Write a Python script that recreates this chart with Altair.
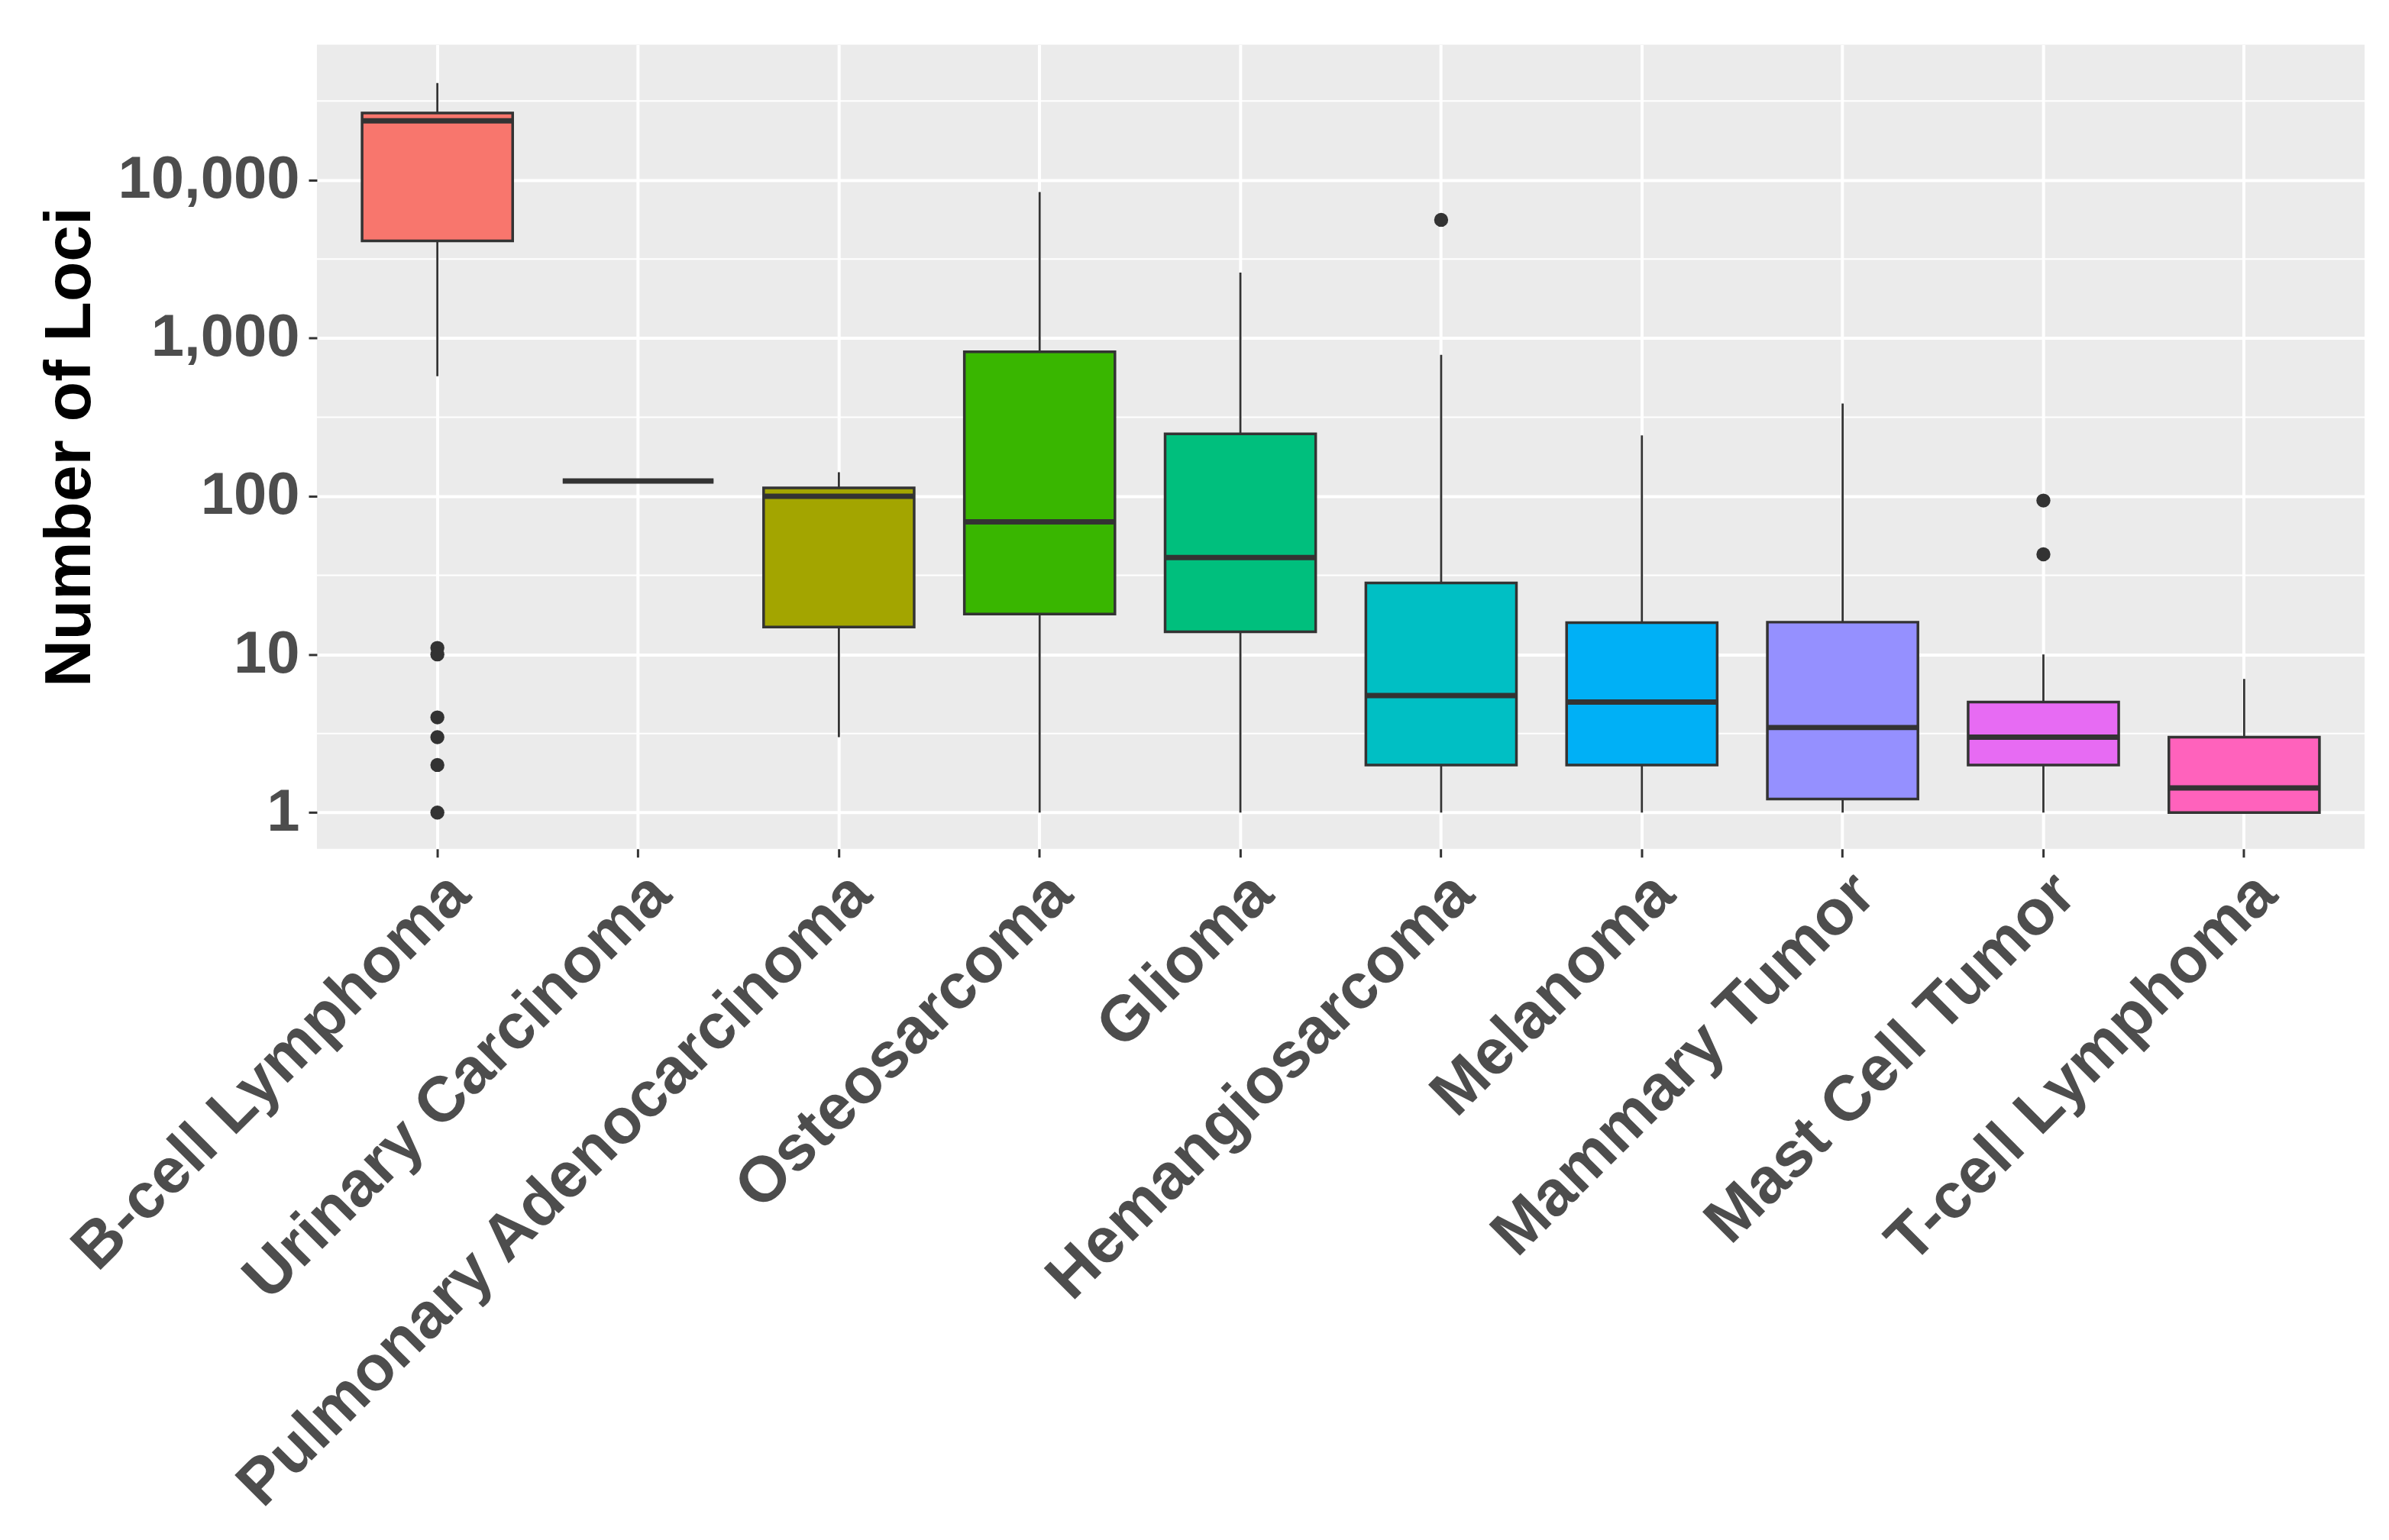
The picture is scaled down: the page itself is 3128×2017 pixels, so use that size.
import altair as alt
import pandas as pd

categories = ["B-cell Lymphoma", "Urinary Carcinoma", "Pulmonary Adenocarcinoma",
              "Osteosarcoma", "Glioma", "Hemangiosarcoma", "Melanoma",
              "Mammary Tumor", "Mast Cell Tumor", "T-cell Lymphoma"]
whisker_low = [575, 125, 3, 1, 1, 1, 1, 1, 1, 1]
q1 = [4120, 125, 14.9, 18, 13.9, 2.0, 2.0, 1.22, 2.0, 1.0]
median = [23700, 125, 100, 69, 41, 5.5, 5.0, 3.45, 3.0, 1.43]
q3 = [26500, 125, 113, 820, 248, 28.3, 15.9, 16, 5.0, 3.0]
whisker_high = [41000, 125, 142, 8400, 2600, 784, 243, 386, 10, 7]
outlier_cat = ["B-cell Lymphoma"] * 6 + ["Hemangiosarcoma", "Mast Cell Tumor", "Mast Cell Tumor"]
outlier_val = [11, 10, 4, 3, 2, 1, 5600, 94, 43]
fill_colors = ["#F8766D", "#D89000", "#A3A500", "#39B600", "#00BF7D",
               "#00BFC4", "#00B0F6", "#9590FF", "#E76BF3", "#FF62BC"]
major_ticks = [1, 10, 100, 1000, 10000]
minor_ticks = [3.1623, 31.623, 316.23, 3162.3, 31623]

box_df = pd.DataFrame({"cat": categories, "lo": whisker_low, "q1": q1,
                       "med": median, "q3": q3, "hi": whisker_high})
out_df = pd.DataFrame({"cat": outlier_cat, "val": outlier_val})
minor_df = pd.DataFrame({"v": minor_ticks})

x_enc = alt.X("cat:N", sort=categories, title=None,
              scale=alt.Scale(domain=categories, paddingInner=0, paddingOuter=0.1))
y_scale = alt.Scale(type="log", domain=[0.59, 71800], nice=False)

minor = alt.Chart(minor_df).mark_rule(color="white", strokeWidth=2).encode(
    y=alt.Y("v:Q", scale=y_scale)
)

whisk = alt.Chart(box_df).mark_rule(color="#333333", strokeWidth=2.8).encode(
    x=x_enc,
    y=alt.Y("lo:Q", scale=y_scale, title="Number of Loci",
            axis=alt.Axis(values=major_ticks, format=",", titleX=-280, titleY=528)),
    y2="hi:Q",
)

boxes = alt.Chart(box_df).mark_bar(
    width=alt.RelativeBandSize(0.75), stroke="#333333", strokeWidth=3.5
).encode(
    x=x_enc,
    y=alt.Y("q1:Q", scale=y_scale),
    y2="q3:Q",
    fill=alt.Fill("cat:N", scale=alt.Scale(domain=categories, range=fill_colors), legend=None),
)

meds = alt.Chart(box_df).mark_tick(color="#333333", thickness=7, size=198, opacity=1).encode(
    x=x_enc,
    y=alt.Y("med:Q", scale=y_scale),
)

outs = alt.Chart(out_df).mark_circle(color="#333333", size=340, opacity=1).encode(
    x=x_enc,
    y=alt.Y("val:Q", scale=y_scale),
)

chart = alt.layer(minor, whisk, boxes, meds, outs).properties(
    width=2688, height=1056,
    autosize=alt.AutoSizeParams(type="none"),
    padding={"left": 408, "top": 48, "right": 24, "bottom": 900},
    background="white",
).configure_view(
    fill="#EBEBEB", stroke=None
).configure_axis(
    grid=True, gridColor="white", gridWidth=4, domain=False,
    tickColor="#333333", tickWidth=3, tickSize=11,
    labelColor="#4D4D4D", labelFont="Liberation Sans", labelFontWeight="bold",
    titleFont="Liberation Sans", titleFontWeight="bold", titleColor="black",
).configure_axisX(
    labelFontSize=84, labelAngle=-45, labelAlign="right", labelBaseline="top",
    labelPadding=6, labelLimit=2000,
).configure_axisY(
    labelFontSize=78, labelPadding=12, labelLimit=1000, titleFontSize=86,
)

chart.save("out.html", embed_options={"renderer": "svg", "actions": False})
